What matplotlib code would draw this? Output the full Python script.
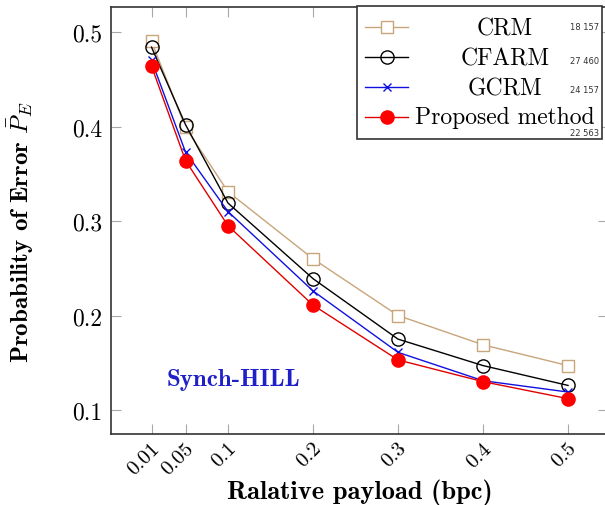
import matplotlib
matplotlib.use("Agg")
import matplotlib.pyplot as plt
import matplotlib.transforms as mtransforms
from matplotlib.lines import Line2D
from matplotlib.patches import Rectangle

# dane
payload = [0.01, 0.05, 0.1, 0.2, 0.3, 0.4, 0.5]
crm = [0.490, 0.399, 0.331, 0.260, 0.200, 0.169, 0.147]
cfarm = [0.484, 0.402, 0.319, 0.239, 0.175, 0.147, 0.126]
gcrm = [0.470, 0.373, 0.310, 0.226, 0.161, 0.131, 0.119]
proposed = [0.464, 0.364, 0.295, 0.211, 0.153, 0.130, 0.112]

labels = ["CRM", "CFARM", "GCRM", "Proposed method"]
side_notes = ["18 157", "27 460", "24 157", "22 563"]
xticks = [0.01, 0.05, 0.1, 0.2, 0.3, 0.4, 0.5]
xtick_labels = ["0.01", "0.05", "0.1", "0.2", "0.3", "0.4", "0.5"]
yticks = [0.1, 0.2, 0.3, 0.4, 0.5]

plt.rcParams["mathtext.fontset"] = "cm"
plt.rcParams["axes.unicode_minus"] = False

W, H = 605, 506
fig = plt.figure(figsize=(W / 100, H / 100), dpi=100)

def px(x, y):
    # piksele obrazka -> wspolrzedne figury
    return x / W, 1 - y / H

ax = fig.add_axes([110.7 / W, (H - 435) / H, (608 - 110.7) / W, (435 - 8) / H])

tan = "#c8a57a"
styles = [
    dict(color=tan, marker="s", markersize=9, markerfacecolor="white", markeredgecolor=tan, markeredgewidth=1.0),
    dict(color="black", marker="o", markersize=9.5, markerfacecolor="none", markeredgecolor="black", markeredgewidth=1.0),
    dict(color="#1010e0", marker="x", markersize=6, markeredgewidth=1.0),
    dict(color="#e00000", marker="o", markersize=9.5, markerfacecolor="red", markeredgecolor="red"),
]
series = [crm, cfarm, gcrm, proposed]

for vals, st in zip(series, styles):
    ax.plot(payload, vals, linewidth=1.0, **st)

ax.set_xlim(-0.038, 0.547)
ax.set_ylim(0.0746, 0.5265)

ax.set_xticks(xticks)
ax.set_xticklabels(xtick_labels, rotation=45, ha="right", va="center",
                   rotation_mode="anchor", fontfamily="cmr10", fontsize=15)
ax.set_yticks(yticks)
ax.set_yticklabels(["0.1", "0.2", "0.3", "0.4", "0.5"], fontfamily="cmr10", fontsize=17)
ax.tick_params(axis="both", direction="in", length=7, width=0.8, color="#a8a8a8",
               top=True, right=True)
ax.tick_params(axis="y", pad=6)
ax.tick_params(axis="x", pad=8)
shift = mtransforms.ScaledTranslation(0.05, 0, fig.dpi_scale_trans)
for lab in ax.get_xticklabels():
    lab.set_transform(lab.get_transform() + shift)

for s in ax.spines.values():
    s.set_color("#333333")
    s.set_linewidth(1.2)
ax.spines["right"].set_visible(False)

ax.set_xlabel("Ralative payload (bpc)", fontfamily="cmb10", fontsize=19)
ax.xaxis.set_label_coords(0.501, -0.104)
ax.set_ylabel(r"Probability of Error $\bar{P}_E$", fontfamily="cmb10", fontsize=18)
ax.yaxis.set_label_coords(-0.153, 0.475)

ax.text(0.106, 0.133, "Synch-HILL", color="#2020c8", fontfamily="cmb10",
        fontsize=18, ha="center", va="center")

# legenda rysowana recznie, tekst wysrodkowany jak w pgfplots
x0, y0 = px(357, 140)
x1, y1 = px(602, 7)
fig.patches.append(Rectangle((x0, y0), x1 - x0, y1 - y0, transform=fig.transFigure,
                             facecolor="white", edgecolor="#333333", linewidth=1.2, zorder=5))
row_y = [28, 58, 88, 118]
baselines = [35, 65, 95, 124]
note_y = [28, 62, 91, 133]
for i, st in enumerate(styles):
    a, b = px(365, row_y[i])
    c, _ = px(408, row_y[i])
    m, _ = px(386.5, row_y[i])
    line_st = {k: v for k, v in st.items() if not k.startswith("marker")}
    fig.add_artist(Line2D([a, c], [b, b], transform=fig.transFigure, linewidth=1.0, zorder=6, **line_st))
    fig.add_artist(Line2D([m], [b], transform=fig.transFigure, linestyle="none", zorder=7, **st))
    tx, ty = px(505, baselines[i])
    fig.text(tx, ty, labels[i], fontfamily="cmr10", fontsize=17, ha="center", va="baseline", zorder=8)
    nx, ny = px(585, note_y[i])
    fig.text(nx, ny, side_notes[i], fontsize=6, color="#333333", ha="center", va="center", zorder=8)

fig.savefig("out.png", dpi=100)
